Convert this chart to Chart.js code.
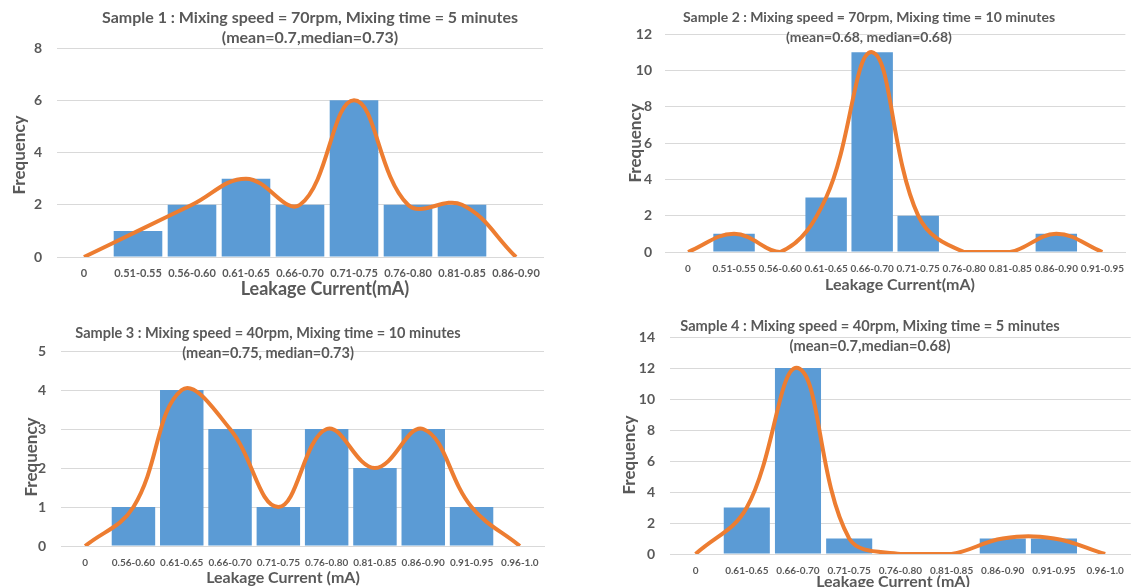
<!DOCTYPE html>
<html>
<head>
<meta charset="utf-8">
<script src="https://cdn.jsdelivr.net/npm/chart.js@4.4.1/dist/chart.umd.min.js"></script>
<style>
  html, body { margin: 0; padding: 0; background: #ffffff; }
  body { width: 1135px; height: 587px; position: relative; overflow: hidden; font-family: Lato, "Open Sans", sans-serif; }
  .cv { position: absolute; }
  .ttl { position: absolute; width: 640px; text-align: center; color: #595959; font-weight: bold; font-size: 14px; line-height: 20px; white-space: nowrap; }
  .xt { position: absolute; color: #595959; font-weight: bold; white-space: nowrap; transform: translate(-50%, -50%); }
  .yt { position: absolute; color: #595959; font-weight: bold; font-size: 17px; white-space: nowrap; transform: translate(-50%, -50%) rotate(-90deg); }
</style>
</head>
<body>
<canvas id="c1" class="cv" width="560" height="300" style="left:0px;top:0px;"></canvas>
<canvas id="c2" class="cv" width="565" height="300" style="left:570px;top:0px;"></canvas>
<canvas id="c3" class="cv" width="560" height="287" style="left:0px;top:300px;"></canvas>
<canvas id="c4" class="cv" width="565" height="287" style="left:570px;top:300px;"></canvas>

<div class="ttl" style="left:-10px;top:7px;font-size:16px;">Sample 1 : Mixing speed = 70rpm, Mixing time = 5 minutes<br>(mean=0.7,median=0.73)</div>
<div class="ttl" style="left:549px;top:7px;">Sample 2 : Mixing speed = 70rpm, Mixing time = 10 minutes<br>(mean=0.68, median=0.68)</div>
<div class="ttl" style="left:-52px;top:323px;font-size:14.5px;">Sample 3 : Mixing speed = 40rpm, Mixing time = 10 minutes<br>(mean=0.75, median=0.73)</div>
<div class="ttl" style="left:550px;top:316px;font-size:14.6px;">Sample 4 : Mixing speed = 40rpm, Mixing time = 5 minutes<br>(mean=0.7,median=0.68)</div>

<div class="yt" style="left:18px;top:155px;">Frequency</div>
<div class="yt" style="left:634px;top:143px;">Frequency</div>
<div class="yt" style="left:30px;top:457px;">Frequency</div>
<div class="yt" style="left:628px;top:455px;">Frequency</div>

<div class="xt" style="left:325px;top:288px;font-size:18px;">Leakage Current(mA)</div>
<div class="xt" style="left:900px;top:283px;font-size:16px;">Leakage Current(mA)</div>
<div class="xt" style="left:283px;top:576px;font-size:16px;">Leakage Current (mA)</div>
<div class="xt" style="left:893px;top:580px;font-size:16px;">Leakage Current (mA)</div>

<script>
// ---- Sample 1 ----
const categories1 = ["0", "0.51-0.55", "0.56-0.60", "0.61-0.65", "0.66-0.70", "0.71-0.75", "0.76-0.80", "0.81-0.85", "0.86-0.90"];
const bars1 = [null, 1, 2, 3, 2, 6, 2, 2, null];
const curve1 = [0, 1, 2, 3, 2, 6, 2, 2, 0];
const yTicks1 = [0, 2, 4, 6, 8];

// ---- Sample 2 ----
const categories2 = ["0", "0.51-0.55", "0.56-0.60", "0.61-0.65", "0.66-0.70", "0.71-0.75", "0.76-0.80", "0.81-0.85", "0.86-0.90", "0.91-0.95"];
const bars2 = [null, 1, null, 3, 11, 2, null, null, 1, null];
const curve2 = [0, 1, 0, 3, 11, 2, 0, 0, 1, 0];
const yTicks2 = [0, 2, 4, 6, 8, 10, 12];

// ---- Sample 3 ----
const categories3 = ["0", "0.56-0.60", "0.61-0.65", "0.66-0.70", "0.71-0.75", "0.76-0.80", "0.81-0.85", "0.86-0.90", "0.91-0.95", "0.96-1.0"];
const bars3 = [null, 1, 4, 3, 1, 3, 2, 3, 1, null];
const curve3 = [0, 1, 4, 3, 1, 3, 2, 3, 1, 0];
const yTicks3 = [0, 1, 2, 3, 4, 5];

// ---- Sample 4 ----
const categories4 = ["0", "0.61-0.65", "0.66-0.70", "0.71-0.75", "0.76-0.80", "0.81-0.85", "0.86-0.90", "0.91-0.95", "0.96-1.0"];
const bars4 = [null, 3, 12, 1, null, null, 1, 1, null];
const curve4 = [0, 3, 12, 1, 0, 0, 1, 1, 0];
const yTicks4 = [0, 2, 4, 6, 8, 10, 12, 14];

const BAR_COLOR = "#5B9BD5";
const LINE_COLOR = "#ED7D31";
const TEXT_COLOR = "#595959";
const GRID_COLOR = "#D9D9D9";
const FONT = "Lato, 'Open Sans', sans-serif";

function makeChart(id, cats, bars, curve, yTicks, L) {
  const yMax = yTicks[yTicks.length - 1];
  const step = yTicks[1] - yTicks[0];
  return new Chart(document.getElementById(id), {
    data: {
      labels: cats,
      datasets: [
        {
          type: "line",
          data: curve,
          borderColor: LINE_COLOR,
          borderWidth: 4,
          pointRadius: 0,
          tension: 0.4,
          fill: false,
          order: 0
        },
        {
          type: "bar",
          data: bars,
          backgroundColor: BAR_COLOR,
          borderWidth: 0,
          barPercentage: 0.9,
          categoryPercentage: 1.0,
          order: 1
        }
      ]
    },
    options: {
      responsive: false,
      animation: false,
      devicePixelRatio: 1,
      layout: { padding: { left: 0, top: L.top, right: L.right, bottom: L.bottom } },
      plugins: { legend: { display: false }, tooltip: { enabled: false }, title: { display: false } },
      scales: {
        x: {
          type: "category",
          offset: true,
          grid: { display: false, drawTicks: false },
          border: { display: true, color: GRID_COLOR, width: 1 },
          ticks: {
            color: TEXT_COLOR,
            font: { family: FONT, size: L.xFont, weight: "bold" },
            padding: L.xPad,
            maxRotation: 0,
            minRotation: 0,
            autoSkip: false
          },
          afterFit: (s) => { s.height = 30; }
        },
        y: {
          min: 0,
          max: yMax,
          grid: { color: GRID_COLOR, lineWidth: 1, drawTicks: false },
          border: { display: false },
          ticks: {
            stepSize: step,
            color: TEXT_COLOR,
            font: { family: FONT, size: 14, weight: "bold" },
            padding: L.yPad
          },
          afterFit: (s) => { s.width = L.yWidth; }
        }
      }
    }
  });
}

makeChart("c1", categories1, bars1, curve1, yTicks1, { top: 48, right: 17, bottom: 13, yWidth: 57, yPad: 15, xPad: 10, xFont: 11 });
makeChart("c2", categories2, bars2, curve2, yTicks2, { top: 34, right: 0, bottom: 18, yWidth: 95, yPad: 13, xPad: 11, xFont: 10 });
makeChart("c3", categories3, bars3, curve3, yTicks3, { top: 51, right: 16, bottom: 11, yWidth: 61, yPad: 15, xPad: 11, xFont: 10 });
makeChart("c4", categories4, bars4, curve4, yTicks4, { top: 37, right: 2, bottom: 3, yWidth: 100, yPad: 15, xPad: 11, xFont: 10 });
</script>
</body>
</html>
